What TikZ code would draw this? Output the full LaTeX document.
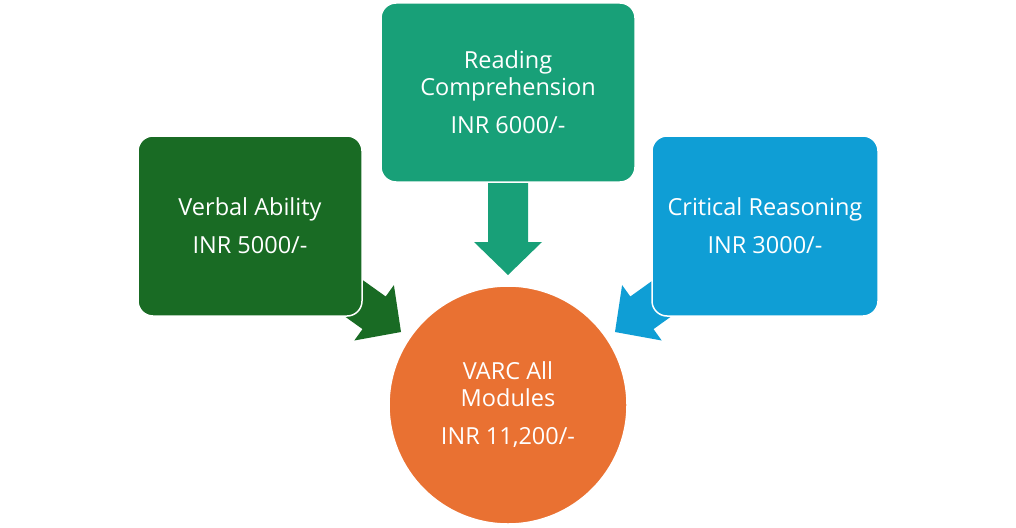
\documentclass[tikz,border=0pt]{standalone}
\usepackage{fontspec}
\setmainfont{Open Sans}
\definecolor{vgreen}{HTML}{196B24}
\definecolor{rteal}{HTML}{18A078}
\definecolor{cblue}{HTML}{0F9ED5}
\definecolor{corange}{HTML}{E97132}
\begin{document}
\begin{tikzpicture}[x=1pt,y=-1pt,
  box/.style={draw=white,line width=1.5pt,rounded corners=15pt,text=white,align=center,
    font=\fontsize{23.5}{27}\selectfont,inner sep=0pt},
  hub/.style={circle,draw=white,line width=1.5pt,fill=corange,text=white,align=center,
    font=\fontsize{23.5}{27}\selectfont,minimum size=238pt,inner sep=0pt}]
\useasboundingbox[fill=white] (0,0) rectangle (1016,527);
% block arrows
\fill[vgreen] (313.7,294.2) -- (336.9,261.6) -- (385.7,296.5) -- (393.9,285.1) -- (401,332)
  -- (354.3,340.5) -- (362.5,329.1) -- cycle;
\fill[cblue] (702.3,294.2) -- (679.1,261.6) -- (630.3,296.5) -- (622.1,285.1) -- (615,332)
  -- (661.7,340.5) -- (653.5,329.1) -- cycle;
\fill[rteal] (488,170) -- (528,170) -- (528,242) -- (542,242) -- (508,275) -- (474,242) -- (488,242) -- cycle;
% boxes
\node[box,fill=vgreen,minimum width=224pt,minimum height=180pt] (va) at (250,226)
  {Verbal Ability\\[11pt]INR 5000/-};
\node[box,fill=rteal,minimum width=254pt,minimum height=179pt] (rc) at (508,92.5)
  {Reading\\Comprehension\\[11pt]INR 6000/-};
\node[box,fill=cblue,minimum width=226pt,minimum height=180pt] (cr) at (765,226)
  {Critical Reasoning\\[11pt]INR 3000/-};
\node[hub] (all) at (508,405) {VARC All\\Modules\\[11pt]INR 11,200/-};
\end{tikzpicture}
\end{document}
